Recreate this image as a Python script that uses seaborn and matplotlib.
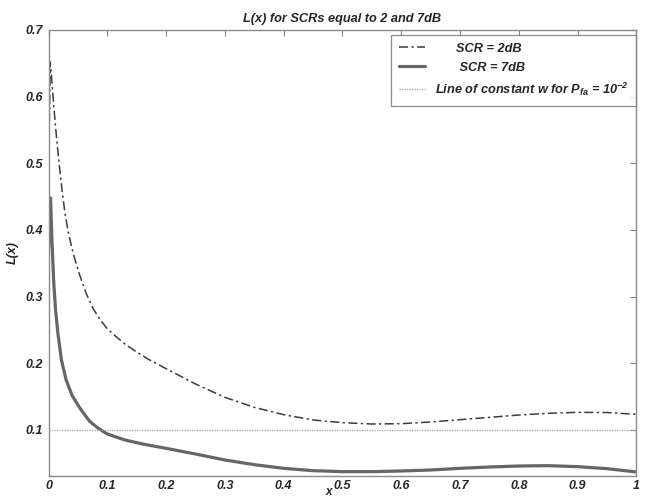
import numpy as np
import pandas as pd
import matplotlib
matplotlib.use("Agg")
import matplotlib.pyplot as plt
import seaborn as sns

# ---- data ----
x_2db = [0.0, 0.003, 0.006, 0.01, 0.014, 0.018, 0.023, 0.028, 0.034, 0.042, 0.052,
         0.064, 0.076, 0.088, 0.10, 0.115, 0.13, 0.15, 0.17, 0.2, 0.25, 0.3, 0.35,
         0.4, 0.45, 0.5, 0.55, 0.6, 0.65, 0.7, 0.75, 0.8, 0.85, 0.9, 0.95, 1.0]
L_2db = [0.48, 0.652, 0.62, 0.575, 0.535, 0.50, 0.46, 0.425, 0.395, 0.365, 0.335,
         0.305, 0.282, 0.265, 0.252, 0.240, 0.229, 0.217, 0.206, 0.192, 0.169, 0.149, 0.134,
         0.123, 0.115, 0.111, 0.109, 0.1095, 0.112, 0.1155, 0.119, 0.1225, 0.125, 0.1265, 0.1262, 0.1235]

x_7db = [0.0, 0.0035, 0.006, 0.009, 0.012, 0.016, 0.022, 0.03, 0.04, 0.054, 0.07,
         0.084, 0.1, 0.13, 0.16, 0.2, 0.25, 0.3, 0.35, 0.4, 0.45, 0.5, 0.55, 0.6,
         0.65, 0.7, 0.75, 0.8, 0.85, 0.9, 0.95, 1.0]
L_7db = [0.37, 0.448, 0.38, 0.32, 0.28, 0.245, 0.205, 0.175, 0.152, 0.132, 0.113,
         0.103, 0.094, 0.085, 0.079, 0.0725, 0.064, 0.055, 0.048, 0.0425, 0.039, 0.0375, 0.0375, 0.0385,
         0.040, 0.0425, 0.0445, 0.046, 0.0465, 0.045, 0.042, 0.037]

x_const = [0.0, 1.0]
L_const = [0.1, 0.1]

x_ticks = [0, 0.1, 0.2, 0.3, 0.4, 0.5, 0.6, 0.7, 0.8, 0.9, 1]
x_ticklabels = ["0", "0.1", "0.2", "0.3", "0.4", "0.5", "0.6", "0.7", "0.8", "0.9", "1"]
y_ticks = [0.1, 0.2, 0.3, 0.4, 0.5, 0.6, 0.7]
y_ticklabels = ["0.1", "0.2", "0.3", "0.4", "0.5", "0.6", "0.7"]

label_2db = "      SCR = 2dB"
label_7db = "       SCR = 7dB"
label_const = r"Line of constant w for P$_{fa}$ = 10$^{-2}$"

# ---- style ----
sns.set_style("white")
plt.rcParams["font.family"] = ["Liberation Sans", "DejaVu Sans"]
plt.rcParams["font.weight"] = "bold"
plt.rcParams["font.style"] = "italic"
plt.rcParams["mathtext.fontset"] = "custom"
plt.rcParams["mathtext.rm"] = "Liberation Sans:bold:italic"
plt.rcParams["mathtext.it"] = "Liberation Sans:bold:italic"
plt.rcParams["mathtext.bf"] = "Liberation Sans:bold:italic"
plt.rcParams["mathtext.default"] = "it"

fig = plt.figure(figsize=(6.45, 5.0), dpi=100)
ax = fig.add_axes([0.0752, 0.048, 0.9116, 0.892])

df2 = pd.DataFrame({"x": x_2db, "L": L_2db})
df7 = pd.DataFrame({"x": x_7db, "L": L_7db})
dfc = pd.DataFrame({"x": x_const, "L": L_const})

sns.lineplot(data=df2, x="x", y="L", ax=ax, color="#3c3c3c", linewidth=1.1,
             label=label_2db, sort=False)
ax.lines[-1].set_dashes([6, 2.2, 1.5, 2.2])
sns.lineplot(data=df7, x="x", y="L", ax=ax, color="#666666", linewidth=2.3,
             label=label_7db, sort=False)
sns.lineplot(data=dfc, x="x", y="L", ax=ax, color="#a0a0a0", linewidth=0.9,
             label=label_const, sort=False)
ax.lines[-1].set_dashes([1, 1])

ax.set_xlim(0, 1)
ax.set_ylim(0.031, 0.7)
ax.set_xticks(x_ticks)
ax.set_xticklabels(x_ticklabels)
ax.set_yticks(y_ticks)
ax.set_yticklabels(y_ticklabels)

ax.tick_params(direction="in", length=4.5, width=0.8, color="#808080",
               top=True, right=True, labelsize=9, pad=4)
ax.tick_params(axis="x", pad=3)
for lab in ax.get_xticklabels() + ax.get_yticklabels():
    lab.set_fontweight("bold")
    lab.set_fontstyle("italic")
for s in ax.spines.values():
    s.set_color("#8a8a8a")
    s.set_linewidth(1.0)
    s.set_visible(True)

ax.set_title("L(x) for SCRs equal to 2 and 7dB", fontsize=9.2, fontweight="bold",
             fontstyle="italic", pad=6)
ax.set_xlabel("x", fontsize=8.5, fontweight="bold", fontstyle="italic")
ax.xaxis.set_label_coords(0.477, -0.022)
ax.set_ylabel("L(x)", fontsize=9, fontweight="bold", fontstyle="italic", labelpad=5)

leg = ax.legend(loc="upper right", bbox_to_anchor=(1.0, 0.989), fontsize=9.2,
                frameon=True, fancybox=False, edgecolor="#707070",
                handlelength=2.0, handletextpad=0.8, borderpad=0.6,
                labelspacing=0.55, borderaxespad=0.0)
leg.get_frame().set_linewidth(0.9)
for t in leg.get_texts():
    t.set_fontweight("bold")
    t.set_fontstyle("italic")

fig.savefig("out.png", dpi=100)
